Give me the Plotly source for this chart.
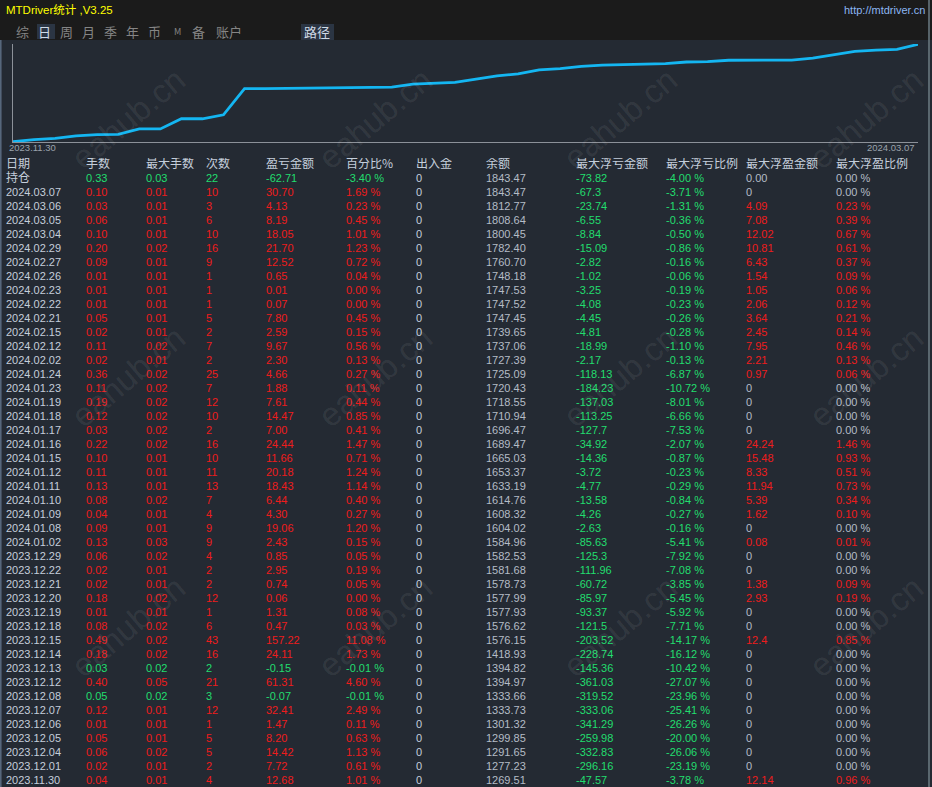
import plotly.graph_objs as go

W, H = 932, 787

# Table columns (top row is the open position "持仓", then days newest first)
headers = ["日期", "手数", "最大手数", "次数", "盈亏金额", "百分比%", "出入金",
           "余额", "最大浮亏金额", "最大浮亏比例", "最大浮盈金额", "最大浮盈比例"]

dates = ["持仓", "2024.03.07", "2024.03.06", "2024.03.05", "2024.03.04", "2024.02.29",
         "2024.02.27", "2024.02.26", "2024.02.23", "2024.02.22", "2024.02.21", "2024.02.15",
         "2024.02.12", "2024.02.02", "2024.01.24", "2024.01.23", "2024.01.19", "2024.01.18",
         "2024.01.17", "2024.01.16", "2024.01.15", "2024.01.12", "2024.01.11", "2024.01.10",
         "2024.01.09", "2024.01.08", "2024.01.02", "2023.12.29", "2023.12.22", "2023.12.21",
         "2023.12.20", "2023.12.19", "2023.12.18", "2023.12.15", "2023.12.14", "2023.12.13",
         "2023.12.12", "2023.12.08", "2023.12.07", "2023.12.06", "2023.12.05", "2023.12.04",
         "2023.12.01", "2023.11.30"]
lots = ["0.33", "0.10", "0.03", "0.06", "0.10", "0.20", "0.09", "0.01", "0.01", "0.01", "0.05",
        "0.02", "0.11", "0.02", "0.36", "0.11", "0.19", "0.12", "0.03", "0.22", "0.10", "0.11",
        "0.13", "0.08", "0.04", "0.09", "0.13", "0.06", "0.02", "0.02", "0.18", "0.01", "0.08",
        "0.49", "0.18", "0.03", "0.40", "0.05", "0.12", "0.01", "0.05", "0.06", "0.02", "0.04"]
max_lots = ["0.03", "0.01", "0.01", "0.01", "0.01", "0.02", "0.01", "0.01", "0.01", "0.01",
            "0.01", "0.01", "0.02", "0.01", "0.02", "0.02", "0.02", "0.02", "0.02", "0.02",
            "0.01", "0.01", "0.01", "0.02", "0.01", "0.01", "0.03", "0.02", "0.01", "0.01",
            "0.02", "0.01", "0.02", "0.02", "0.02", "0.02", "0.05", "0.02", "0.01", "0.01",
            "0.01", "0.02", "0.01", "0.01"]
trades = ["22", "10", "3", "6", "10", "16", "9", "1", "1", "1", "5", "2", "7", "2", "25", "7",
          "12", "10", "2", "16", "10", "11", "13", "7", "4", "9", "9", "4", "2", "2", "12", "1",
          "6", "43", "16", "2", "21", "3", "12", "1", "5", "5", "2", "4"]
profit = ["-62.71", "30.70", "4.13", "8.19", "18.05", "21.70", "12.52", "0.65", "0.01", "0.07",
          "7.80", "2.59", "9.67", "2.30", "4.66", "1.88", "7.61", "14.47", "7.00", "24.44",
          "11.66", "20.18", "18.43", "6.44", "4.30", "19.06", "2.43", "0.85", "2.95", "0.74",
          "0.06", "1.31", "0.47", "157.22", "24.11", "-0.15", "61.31", "-0.07", "32.41", "1.47",
          "8.20", "14.42", "7.72", "12.68"]
profit_pct = ["-3.40 %", "1.69 %", "0.23 %", "0.45 %", "1.01 %", "1.23 %", "0.72 %", "0.04 %",
              "0.00 %", "0.00 %", "0.45 %", "0.15 %", "0.56 %", "0.13 %", "0.27 %", "0.11 %",
              "0.44 %", "0.85 %", "0.41 %", "1.47 %", "0.71 %", "1.24 %", "1.14 %", "0.40 %",
              "0.27 %", "1.20 %", "0.15 %", "0.05 %", "0.19 %", "0.05 %", "0.00 %", "0.08 %",
              "0.03 %", "11.08 %", "1.73 %", "-0.01 %", "4.60 %", "-0.01 %", "2.49 %", "0.11 %",
              "0.63 %", "1.13 %", "0.61 %", "1.01 %"]
flows = ["0", "0", "0", "0", "0", "0", "0", "0", "0", "0", "0", "0", "0", "0", "0", "0", "0",
         "0", "0", "0", "0", "0", "0", "0", "0", "0", "0", "0", "0", "0", "0", "0", "0", "0",
         "0", "0", "0", "0", "0", "0", "0", "0", "0", "0"]
balance = ["1843.47", "1843.47", "1812.77", "1808.64", "1800.45", "1782.40", "1760.70",
           "1748.18", "1747.53", "1747.52", "1747.45", "1739.65", "1737.06", "1727.39",
           "1725.09", "1720.43", "1718.55", "1710.94", "1696.47", "1689.47", "1665.03",
           "1653.37", "1633.19", "1614.76", "1608.32", "1604.02", "1584.96", "1582.53",
           "1581.68", "1578.73", "1577.99", "1577.93", "1576.62", "1576.15", "1418.93",
           "1394.82", "1394.97", "1333.66", "1333.73", "1301.32", "1299.85", "1291.65",
           "1277.23", "1269.51"]
max_dd = ["-73.82", "-67.3", "-23.74", "-6.55", "-8.84", "-15.09", "-2.82", "-1.02", "-3.25",
          "-4.08", "-4.45", "-4.81", "-18.99", "-2.17", "-118.13", "-184.23", "-137.03",
          "-113.25", "-127.7", "-34.92", "-14.36", "-3.72", "-4.77", "-13.58", "-4.26", "-2.63",
          "-85.63", "-125.3", "-111.96", "-60.72", "-85.97", "-93.37", "-121.5", "-203.52",
          "-228.74", "-145.36", "-361.03", "-319.52", "-333.06", "-341.29", "-259.98",
          "-332.83", "-296.16", "-47.57"]
max_dd_pct = ["-4.00 %", "-3.71 %", "-1.31 %", "-0.36 %", "-0.50 %", "-0.86 %", "-0.16 %",
              "-0.06 %", "-0.19 %", "-0.23 %", "-0.26 %", "-0.28 %", "-1.10 %", "-0.13 %",
              "-6.87 %", "-10.72 %", "-8.01 %", "-6.66 %", "-7.53 %", "-2.07 %", "-0.87 %",
              "-0.23 %", "-0.29 %", "-0.84 %", "-0.27 %", "-0.16 %", "-5.41 %", "-7.92 %",
              "-7.08 %", "-3.85 %", "-5.45 %", "-5.92 %", "-7.71 %", "-14.17 %", "-16.12 %",
              "-10.42 %", "-27.07 %", "-23.96 %", "-25.41 %", "-26.26 %", "-20.00 %",
              "-26.06 %", "-23.19 %", "-3.78 %"]
max_fp = ["0.00", "0", "4.09", "7.08", "12.02", "10.81", "6.43", "1.54", "1.05", "2.06",
          "3.64", "2.45", "7.95", "2.21", "0.97", "0", "0", "0", "0", "24.24", "15.48", "8.33",
          "11.94", "5.39", "1.62", "0", "0.08", "0", "0", "1.38", "2.93", "0", "0", "12.4", "0",
          "0", "0", "0", "0", "0", "0", "0", "0", "12.14"]
max_fp_pct = ["0.00 %", "0.00 %", "0.23 %", "0.39 %", "0.67 %", "0.61 %", "0.37 %", "0.09 %",
              "0.06 %", "0.12 %", "0.21 %", "0.14 %", "0.46 %", "0.13 %", "0.06 %", "0.00 %",
              "0.00 %", "0.00 %", "0.00 %", "1.46 %", "0.93 %", "0.51 %", "0.73 %", "0.34 %",
              "0.10 %", "0.00 %", "0.01 %", "0.00 %", "0.00 %", "0.09 %", "0.19 %", "0.00 %",
              "0.00 %", "0.85 %", "0.00 %", "0.00 %", "0.00 %", "0.00 %", "0.00 %", "0.00 %",
              "0.00 %", "0.00 %", "0.00 %", "0.96 %"]

start_balance = 1256.83  # balance before the first day shown

nav_items = ["综", "日", "周", "月", "季", "年", "币", "M", "备", "账户", "路径"]

# colours
BG = "#242a33"
TOP = "#1b1b1b"
RED = "#ee1c1c"
GREEN = "#22dd6e"
LIGHT = "#c4cedb"
GREY = "#b4bcc6"
CJK = "Noto Sans CJK SC"
NUM = "Liberation Sans, Noto Sans CJK SC"


def px(x):
    return x / W


def py(y):
    return 1 - y / H


# equity curve, oldest first
curve = [start_balance] + [float(b) for b in balance[1:]][::-1]
curve_x = list(range(len(curve)))

fig = go.Figure()
fig.add_trace(go.Scatter(x=curve_x, y=curve, mode="lines",
                         line=dict(color="#14b6f2", width=2.8),
                         hoverinfo="skip", xaxis="x", yaxis="y"))

# table: one text trace per column
rows = list(range(1, len(dates) + 1))
col_x = [6, 86, 146, 206, 266, 346, 416, 486, 576, 666, 746, 836]


def sign_colour(v):
    return GREEN if float(v) < 0 else RED


def fp_colour(v):
    return RED if float(v) != 0 else GREY


pl_colours = [sign_colour(v) for v in profit]
columns = [
    (dates, [LIGHT] * len(dates)),
    (lots, pl_colours),
    (max_lots, pl_colours),
    (trades, pl_colours),
    (profit, pl_colours),
    (profit_pct, pl_colours),
    (flows, [LIGHT] * len(flows)),
    (balance, [GREY] * len(balance)),
    (max_dd, [GREEN] * len(max_dd)),
    (max_dd_pct, [GREEN] * len(max_dd_pct)),
    (max_fp, [fp_colour(v) for v in max_fp]),
    (max_fp_pct, [fp_colour(v.replace(" %", "")) for v in max_fp_pct]),
]

fig.add_trace(go.Scatter(x=col_x, y=[0] * len(headers), text=headers, mode="text",
                         textposition="middle right", hoverinfo="skip",
                         textfont=dict(family=CJK, size=12, color=LIGHT),
                         xaxis="x2", yaxis="y2"))
for cx, (vals, cols) in zip(col_x, columns):
    sizes = [12 if not v[0].isdigit() and v[0] != "-" else 11 for v in vals]
    fig.add_trace(go.Scatter(x=[cx] * len(vals), y=rows, text=vals, mode="text",
                             textposition="middle right", hoverinfo="skip",
                             textfont=dict(family=NUM, size=sizes, color=cols),
                             xaxis="x2", yaxis="y2"))

shapes = [
    dict(type="rect", xref="paper", yref="paper", x0=0, x1=1, y0=py(40), y1=1,
         fillcolor=TOP, line_width=0, layer="below"),
    dict(type="rect", xref="paper", yref="paper", x0=px(37), x1=px(55), y0=py(39), y1=py(24),
         fillcolor="#2b3543", line_width=0, layer="below"),
    dict(type="rect", xref="paper", yref="paper", x0=px(301), x1=px(334), y0=py(40), y1=py(24),
         fillcolor="#2b3543", line_width=0, layer="below"),
    dict(type="line", xref="paper", yref="paper", x0=px(0.8), x1=px(0.8), y0=0, y1=py(40),
         line=dict(color="#5a6a80", width=1.5)),
    dict(type="line", xref="paper", yref="paper", x0=px(929), x1=px(929), y0=0, y1=1,
         line=dict(color="#6c7c84", width=1.5)),
]

annotations = [
    dict(text="MTDriver统计 ,V3.25", x=px(4), y=py(10), xanchor="left", yanchor="middle",
         font=dict(family=NUM, size=11.5, color="#ffff00")),
    dict(text="http://mtdriver.cn", x=px(927), y=py(10), xanchor="right", yanchor="middle",
         font=dict(family=NUM, size=11, color="#8cb6f2")),
    dict(text=dates[-1], x=0, y=py(148), xref="x", xanchor="left", yanchor="middle", xshift=-6,
         font=dict(family=NUM, size=9.5, color="#9aa2ac")),
    dict(text=dates[1], x=curve_x[-1], y=py(148), xref="x", xanchor="right", yanchor="middle",
         xshift=-1, font=dict(family=NUM, size=9.5, color="#9aa2ac")),
]
nav_x = [22.5, 44.5, 66.5, 88.5, 110.5, 132.5, 154, 177, 198.5, 228.5, 317]
for label, cx in zip(nav_items, nav_x):
    active = label in ("日", "路径")
    annotations.append(dict(
        text=label, x=px(cx), y=py(31.5), xanchor="center", yanchor="middle",
        font=dict(family=CJK, size=9 if label == "M" else 13,
                  color="#cfdae6" if active else "#858585")))
for wy in (118, 376, 626):
    for wx in (128, 375, 620, 866):
        annotations.append(dict(text="eahub.cn", x=px(wx), y=py(wy), textangle=-40,
                                xanchor="center", yanchor="middle",
                                font=dict(family="Liberation Sans", size=33,
                                          color="rgba(255,255,255,0.085)")))
for a in annotations:
    a.setdefault("xref", "paper")
    a.setdefault("yref", "paper")
    a["showarrow"] = False

table_top = 158
n_vis = (H - table_top) / 14.0

fig.update_layout(
    width=W, height=H, margin=dict(l=0, r=0, t=0, b=0),
    paper_bgcolor=BG, plot_bgcolor=BG, showlegend=False,
    shapes=shapes, annotations=annotations,
    xaxis=dict(domain=[px(13), px(918)], range=[0, curve_x[-1]], showgrid=False,
               zeroline=False, showticklabels=False, ticks="",
               showline=True, linecolor="#8c9199", linewidth=1.2),
    yaxis=dict(domain=[py(142), py(44)], range=[min(curve) - 2, max(curve) + 2],
               showgrid=False, zeroline=False, showticklabels=False, ticks="",
               showline=True, linecolor="#8c9199", linewidth=1.2),
    xaxis2=dict(domain=[0, 1], range=[0, W], visible=False, anchor="y2"),
    yaxis2=dict(domain=[0, py(table_top)], range=[n_vis - 0.5, -0.5], visible=False,
                anchor="x2"),
)

# the page's default body margin would push the figure out of the window
fig.write_html("out.html", post_script="document.body.style.margin = '0';",
               config={"displayModeBar": False})
